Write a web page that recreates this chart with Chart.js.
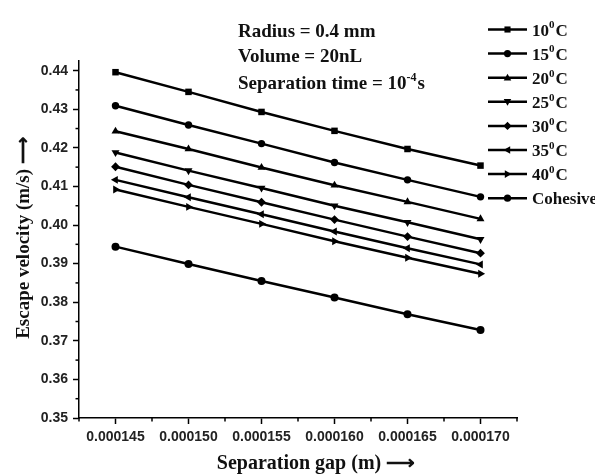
<!DOCTYPE html>
<html>
<head>
<meta charset="utf-8">
<script src="https://cdn.jsdelivr.net/npm/chart.js"></script>
<style>
  html, body { margin: 0; padding: 0; background: #fff; }
  #wrap { width: 595px; height: 475px; }
</style>
</head>
<body>
<div id="wrap"><canvas id="chart" width="595" height="475"></canvas></div>
<script>
// separation gap (m)
const gap = [0.000145, 0.000150, 0.000155, 0.000160, 0.000165, 0.000170];

// escape velocity (m/s) per temperature
const v10 = [0.4396, 0.4345, 0.4293, 0.4244, 0.4197, 0.4154];
const v15 = [0.4309, 0.4259, 0.4211, 0.4162, 0.4117, 0.4073];
const v20 = [0.4243, 0.4197, 0.4149, 0.4103, 0.4060, 0.4016];
const v25 = [0.4188, 0.4141, 0.4096, 0.4050, 0.4007, 0.3963];
const v30 = [0.4151, 0.4104, 0.4059, 0.4014, 0.3970, 0.3927];
const v35 = [0.4117, 0.4072, 0.4028, 0.3983, 0.3940, 0.3898];
const v40 = [0.4092, 0.4047, 0.4003, 0.3958, 0.3915, 0.3874];
const cohesive = [0.3944, 0.3899, 0.3855, 0.3812, 0.3769, 0.3728];

const seriesNames = ['10', '15', '20', '25', '30', '35', '40', 'Cohesive'];
const seriesValues = [v10, v15, v20, v25, v30, v35, v40, cohesive];
const markers = [
  ['rect', 0], ['circle', 0], ['triangle', 0], ['triangle', 180],
  ['rectRot', 0], ['triangle', 270], ['triangle', 90], ['circle', 0]
];
const markerSize = [4.6, 3.7, 4.6, 4.6, 4.4, 4.6, 4.6, 4.0];

const notes = ['Radius = 0.4 mm', 'Volume = 20nL'];
const xTitle = 'Separation gap (m) \u27F6';
const yTitle = 'Escape velocity (m/s) \u27F6';

const serif = "'Liberation Serif', 'Times New Roman', serif";
const sans = "'Liberation Sans', Arial, sans-serif";

function isMultiple(v, step) {
  const r = v / step;
  return Math.abs(r - Math.round(r)) < 1e-6;
}

// small marker drawer for the legend
function drawMarker(ctx, style, rot, x, y, r) {
  ctx.save();
  ctx.translate(x, y);
  ctx.rotate(rot * Math.PI / 180);
  ctx.beginPath();
  if (style === 'rect') {
    ctx.rect(-r * 0.85, -r * 0.85, r * 1.7, r * 1.7);
  } else if (style === 'circle') {
    ctx.arc(0, 0, r, 0, Math.PI * 2);
  } else if (style === 'rectRot') {
    ctx.moveTo(0, -r * 1.15); ctx.lineTo(r * 1.15, 0); ctx.lineTo(0, r * 1.15); ctx.lineTo(-r * 1.15, 0);
  } else {
    ctx.moveTo(0, -r * 1.1); ctx.lineTo(r * 1.05, r * 0.75); ctx.lineTo(-r * 1.05, r * 0.75);
  }
  ctx.closePath();
  ctx.fillStyle = '#000';
  ctx.fill();
  ctx.restore();
}

// text with a raised part: parts = [[text, raised], ...]
function drawSupText(ctx, parts, x, y, size) {
  let cx = x;
  parts.forEach(p => {
    if (p[1]) {
      ctx.font = 'bold ' + Math.round(size * 0.62) + 'px ' + serif;
      ctx.fillText(p[0], cx, y - size * 0.42);
    } else {
      ctx.font = 'bold ' + size + 'px ' + serif;
      ctx.fillText(p[0], cx, y);
    }
    cx += ctx.measureText(p[0]).width + (p[1] ? 1 : 0);
  });
}

const extras = {
  id: 'extras',
  afterDraw(chart) {
    const ctx = chart.ctx;
    const xs = chart.scales.x, ys = chart.scales.y;
    ctx.save();
    ctx.strokeStyle = '#000';
    ctx.lineWidth = 1.5;
    // minor ticks
    xs.ticks.forEach(t => {
      if (isMultiple(t.value, 0.0000025) && !isMultiple(t.value, 0.000005)) {
        const px = xs.getPixelForValue(t.value);
        ctx.beginPath(); ctx.moveTo(px, xs.top); ctx.lineTo(px, xs.top + 3.5); ctx.stroke();
      }
    });
    ys.ticks.forEach(t => {
      if (isMultiple(t.value, 0.005) && !isMultiple(t.value, 0.01)) {
        const py = ys.getPixelForValue(t.value);
        ctx.beginPath(); ctx.moveTo(ys.right, py); ctx.lineTo(ys.right - 3.5, py); ctx.stroke();
      }
    });

    // axis titles
    ctx.fillStyle = '#111';
    ctx.textBaseline = 'alphabetic';
    ctx.textAlign = 'center';
    ctx.font = 'bold 20px ' + serif;
    ctx.fillText(xTitle, 316, 469);
    ctx.save();
    ctx.translate(29, 238);
    ctx.rotate(-Math.PI / 2);
    ctx.font = 'bold 19px ' + serif;
    ctx.fillText(yTitle, 0, 0);
    ctx.restore();

    // annotation text
    ctx.textAlign = 'left';
    ctx.font = 'bold 19px ' + serif;
    ctx.fillText(notes[0], 238, 37);
    ctx.fillText(notes[1], 238, 62);
    drawSupText(ctx, [['Separation time = 10', false], ['-4', true], ['s', false]], 238, 89, 19);

    // legend
    const lx = 488, lw = 39, top = 29.5, step = 24.1;
    seriesNames.forEach((name, i) => {
      const y = top + i * step;
      ctx.lineWidth = 2.5;
      ctx.beginPath(); ctx.moveTo(lx, y); ctx.lineTo(lx + lw, y); ctx.stroke();
      drawMarker(ctx, markers[i][0], markers[i][1], lx + lw / 2, y, 3.6);
      ctx.fillStyle = '#111';
      if (name === 'Cohesive') {
        drawSupText(ctx, [[name, false]], lx + lw + 5, y + 6, 17);
      } else {
        drawSupText(ctx, [[name, false], ['0', true], ['C', false]], lx + lw + 5, y + 6, 17);
      }
    });
    ctx.restore();
  }
};

new Chart(document.getElementById('chart').getContext('2d'), {
  type: 'scatter',
  data: {
    datasets: seriesValues.map((vals, i) => ({
      label: seriesNames[i],
      data: vals.map((v, j) => ({ x: gap[j], y: v })),
      showLine: true,
      borderColor: '#000',
      backgroundColor: '#000',
      borderWidth: 2.5,
      pointStyle: markers[i][0],
      rotation: markers[i][1],
      pointRadius: markerSize[i],
      pointBorderWidth: 0
    }))
  },
  plugins: [extras],
  options: {
    responsive: false,
    animation: false,
    layout: { padding: { left: 0, top: 61, right: 78, bottom: 0 } },
    plugins: { legend: { display: false }, tooltip: { enabled: false } },
    scales: {
      x: {
        type: 'linear',
        min: 0.0001425,
        max: 0.0001725,
        afterFit: s => { s.height = 57; },
        border: { display: true, color: '#000', width: 1.5 },
        grid: {
          drawOnChartArea: false,
          tickLength: 6,
          tickWidth: 1.5,
          tickColor: c => (c.tick && isMultiple(c.tick.value, 0.000005)) ? '#000' : 'rgba(0,0,0,0)'
        },
        ticks: {
          stepSize: 0.0000025,
          autoSkip: false,
          maxRotation: 0,
          padding: 5,
          color: '#222',
          font: { family: sans, size: 14, weight: 'bold' },
          callback: v => isMultiple(v, 0.000005) ? v.toFixed(6) : ''
        }
      },
      y: {
        min: 0.35,
        max: 0.4425,
        afterFit: s => { s.width = 79; },
        afterBuildTicks: s => {
          const t = [];
          for (let k = 0; k <= 18; k++) t.push({ value: 0.35 + k * 0.005 });
          s.ticks = t;
        },
        border: { display: true, color: '#000', width: 1.5 },
        grid: {
          drawOnChartArea: false,
          tickLength: 6,
          tickWidth: 1.5,
          tickColor: c => (c.tick && isMultiple(c.tick.value, 0.01)) ? '#000' : 'rgba(0,0,0,0)'
        },
        ticks: {
          autoSkip: false,
          padding: 5,
          color: '#222',
          font: { family: sans, size: 14, weight: 'bold' },
          callback: v => isMultiple(v, 0.01) ? v.toFixed(2) : ''
        }
      }
    }
  }
});
</script>
</body>
</html>
